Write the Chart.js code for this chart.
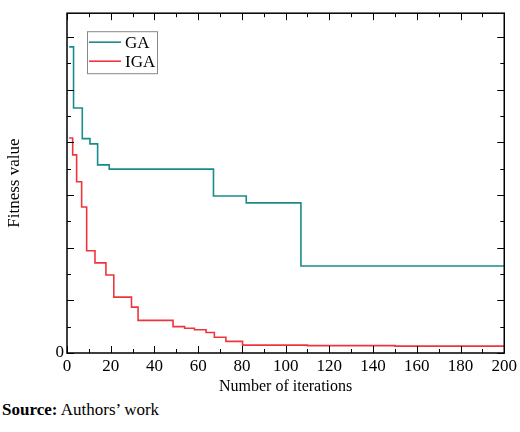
<!DOCTYPE html>
<html><head><meta charset="utf-8">
<script src="https://cdn.jsdelivr.net/npm/chart.js@4"></script>
<style>
body{margin:0;background:#fff;font-family:"Liberation Serif",serif;}
#wrap{position:relative;width:520px;height:396px;}
#src{font-size:17px;margin:4px 0 0 2px;color:#000;}
</style></head><body>
<div id="wrap"><canvas id="c" width="520" height="396"></canvas></div>
<div id="src"><b>Source:</b> Authors’ work</div>
<script>
// step-change iterations and fitness values
const gaIter = [1, 3, 7, 10.5, 14, 19.3, 67, 82, 107, 200];
const gaVal = [5.81e8, 4.65e8, 4.07e8, 3.97e8, 3.57e8, 3.49e8, 2.98e8, 2.85e8, 1.65e8, 1.65e8];
const igaIter = [1, 2.6, 4.4, 6.7, 9, 12.8, 17.8, 21.4, 29.5, 32.5, 48.5, 53.8, 58.3, 63.6, 67.4, 72.7, 80.3, 110, 150, 200];
const igaVal = [4.08e8, 3.76e8, 3.25e8, 2.77e8, 1.94e8, 1.71e8, 1.48e8, 1.06e8, 0.87e8, 0.62e8, 0.5e8, 0.47e8, 0.44e8, 0.39e8, 0.30e8, 0.22e8, 0.15e8, 0.14e8, 0.13e8, 0.12e8];
const yTickLabels = ['0', '1×10⁸', '2×10⁸', '3×10⁸', '4×10⁸', '5×10⁸', '6×10⁸'];

const pts = (xs, ys) => xs.map((x, i) => ({x: x, y: ys[i]}));

// inward major/minor ticks on all four sides
const tickPlugin = {
    id: 'inTicks',
    afterDraw(chart) {
        const {ctx, chartArea: a, scales: {x, y}} = chart;
        ctx.save();
        ctx.strokeStyle = '#000';
        ctx.lineWidth = 1;
        ctx.beginPath();
        for (let v = 0; v <= 200; v += 10) {
            const px = Math.round(x.getPixelForValue(v)) + 0.5;
            const len = v % 20 === 0 ? 7 : 4;
            ctx.moveTo(px, a.bottom); ctx.lineTo(px, a.bottom - len);
            ctx.moveTo(px, a.top); ctx.lineTo(px, a.top + len);
        }
        for (let v = 0; v <= 6.4e8; v += 0.5e8) {
            const py = Math.round(y.getPixelForValue(v)) + 0.5;
            const len = Math.round(v / 0.5e8) % 2 === 0 ? 7 : 4;
            ctx.moveTo(a.left, py); ctx.lineTo(a.left + len, py);
            ctx.moveTo(a.right, py); ctx.lineTo(a.right - len, py);
        }
        ctx.stroke();
        ctx.lineWidth = 1.5;
        ctx.strokeRect(a.left, a.top, a.right - a.left, a.bottom - a.top);
        ctx.restore();
    }
};

new Chart(document.getElementById('c'), {
    type: 'line',
    data: {
        datasets: [
            {label: 'GA', data: pts(gaIter, gaVal), borderColor: '#1a8a8a', borderWidth: 1.6, stepped: 'before', pointRadius: 0, fill: false},
            {label: 'IGA', data: pts(igaIter, igaVal), borderColor: '#f0343c', borderWidth: 1.6, stepped: 'before', pointRadius: 0, fill: false}
        ]
    },
    options: {
        responsive: false,
        animation: false,
        layout: {padding: {top: 3, right: 14, left: 0, bottom: 0}},
        plugins: {
            legend: {display: false},
            tooltip: {enabled: false}
        },
        scales: {
            x: {
                type: 'linear', min: 0, max: 200,
                grid: {display: false, drawTicks: false},
                border: {display: false},
                ticks: {stepSize: 20, color: '#000', padding: 3, font: {family: 'Liberation Serif', size: 17}},
                title: {display: true, text: 'Number of iterations', color: '#000', padding: {top: 1, bottom: 0}, font: {family: 'Liberation Serif', size: 16}},
                afterFit(s) { s.height = 43; }
            },
            y: {
                min: 0, max: 6.45e8,
                grid: {display: false, drawTicks: false},
                border: {display: false},
                afterBuildTicks(s) { s.ticks = s.ticks.filter(t => t.value <= 6e8 && Math.abs(t.value / 1e8 - Math.round(t.value / 1e8)) < 1e-6); },
                ticks: {stepSize: 1e8, color: '#000', padding: 3,
                    font: {family: 'Liberation Serif', size: 17},
                    callback: (v) => yTickLabels[Math.round(v / 1e8)]},
                title: {display: true, text: 'Fitness value', color: '#000', padding: {bottom: 0}, font: {family: 'Liberation Serif', size: 17}},
                afterFit(s) { s.width = 67; }
            }
        }
    },
    plugins: [tickPlugin, {
        id: 'legendBox',
        afterDraw(chart) {
            const {ctx, chartArea: a} = chart;
            const bx = a.left + 20, by = a.top + 18;
            ctx.save();
            ctx.fillStyle = '#fff';
            ctx.fillRect(bx, by, 70, 42);
            ctx.strokeStyle = '#888'; ctx.lineWidth = 1;
            ctx.strokeRect(bx + 0.5, by + 0.5, 70, 42);
            ctx.font = '17px "Liberation Serif"';
            ctx.textBaseline = 'middle';
            chart.data.datasets.forEach((d, i) => {
                const yy = by + 11 + i * 19;
                ctx.strokeStyle = d.borderColor; ctx.lineWidth = 1.6;
                ctx.beginPath(); ctx.moveTo(bx + 2, yy); ctx.lineTo(bx + 34, yy); ctx.stroke();
                ctx.fillStyle = '#000';
                ctx.fillText(d.label, bx + 38, yy + 1);
            });
            ctx.restore();
        }
    }]
});
</script>
</body></html>
